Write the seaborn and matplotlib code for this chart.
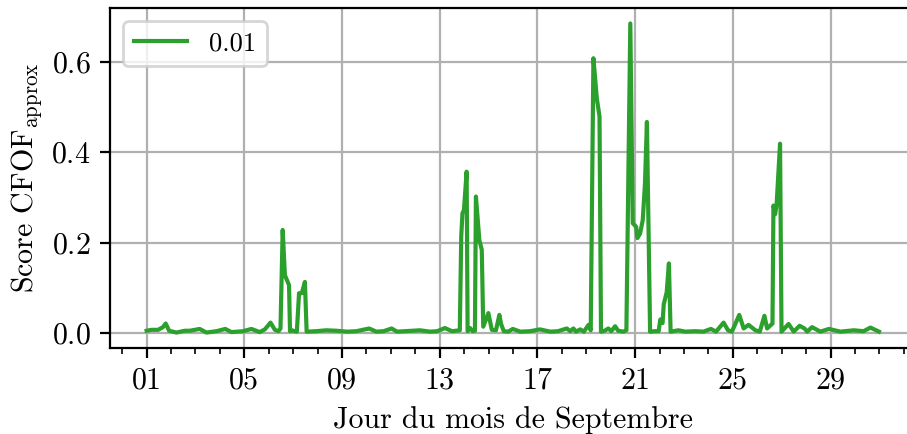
import matplotlib
matplotlib.use("Agg")
import matplotlib.pyplot as plt
import matplotlib.dates as mdates
import numpy as np
import pandas as pd
import seaborn as sns

# Days elapsed since 1 September 00:00 and the CFOF score at that time
jours = [
    0.00, 0.20, 0.47, 0.67, 0.78, 0.92, 1.22, 1.56, 1.77, 2.17, 2.45, 2.86,
    3.22, 3.47, 3.95, 4.29, 4.63, 4.84, 5.07, 5.25, 5.40, 5.48, 5.57, 5.66,
    5.83, 5.87, 5.95, 6.05, 6.15, 6.24, 6.35, 6.48, 6.55, 6.95, 7.35, 7.77,
    8.20, 8.59, 9.11, 9.40, 9.70, 10.03, 10.25, 10.57, 11.19, 11.60, 11.90,
    12.21, 12.50, 12.82, 12.88, 12.93, 12.99, 13.10, 13.14, 13.24, 13.35,
    13.44, 13.48, 13.62, 13.72, 13.78, 13.99, 14.13, 14.30, 14.44, 14.51,
    14.62, 14.80, 14.99, 15.29, 15.70, 16.10, 16.52, 16.84, 17.20, 17.34,
    17.47, 17.58, 17.75, 17.90, 18.09, 18.18, 18.29, 18.43, 18.54, 18.60,
    18.75, 18.90, 19.02, 19.18, 19.30, 19.52, 19.64, 19.80, 19.90, 20.04,
    20.09, 20.20, 20.31, 20.40, 20.48, 20.61, 20.80, 20.96, 21.03, 21.12,
    21.17, 21.29, 21.38, 21.45, 21.77, 22.05, 22.46, 22.79, 23.10, 23.31,
    23.62, 23.80, 23.96, 24.26, 24.44, 24.64, 24.92, 25.10, 25.29, 25.40,
    25.62, 25.66, 25.73, 25.79, 25.93, 25.99, 26.28, 26.49, 26.73, 26.93,
    27.04, 27.24, 27.58, 27.93, 28.40, 28.95, 29.35, 29.63, 29.98,
]
scores = [
    0.005, 0.007, 0.007, 0.013, 0.021, 0.005, 0.001, 0.005, 0.005, 0.009,
    0.001, 0.004, 0.009, 0.002, 0.004, 0.009, 0.002, 0.008, 0.023, 0.007,
    0.004, 0.010, 0.228, 0.128, 0.106, 0.004, 0.006, 0.004, 0.003, 0.088,
    0.088, 0.113, 0.003, 0.004, 0.006, 0.005, 0.003, 0.004, 0.010, 0.003,
    0.004, 0.010, 0.003, 0.004, 0.006, 0.003, 0.004, 0.011, 0.004, 0.006,
    0.215, 0.265, 0.272, 0.357, 0.004, 0.011, 0.004, 0.005, 0.302, 0.206,
    0.184, 0.014, 0.044, 0.007, 0.006, 0.040, 0.020, 0.004, 0.003, 0.009,
    0.003, 0.004, 0.008, 0.003, 0.004, 0.010, 0.004, 0.010, 0.003, 0.008,
    0.003, 0.018, 0.006, 0.608, 0.519, 0.479, 0.003, 0.005, 0.010, 0.004,
    0.015, 0.005, 0.003, 0.006, 0.685, 0.243, 0.235, 0.210, 0.220, 0.250,
    0.330, 0.467, 0.003, 0.004, 0.004, 0.030, 0.022, 0.064, 0.090, 0.154,
    0.003, 0.006, 0.003, 0.004, 0.003, 0.009, 0.003, 0.023, 0.006, 0.003,
    0.040, 0.010, 0.018, 0.006, 0.003, 0.038, 0.010, 0.021, 0.282, 0.263,
    0.285, 0.419, 0.003, 0.020, 0.003, 0.016, 0.010, 0.003, 0.013, 0.003,
    0.009, 0.003, 0.006, 0.004, 0.012, 0.003,
]
serie = "0.01"
jours_ticks = [1, 5, 9, 13, 17, 21, 25, 29]

plt.rcParams.update({
    "font.family": ["cmr10"],
    "mathtext.fontset": "cm",
    "axes.formatter.use_mathtext": True,
    "font.size": 10.8,
    "axes.unicode_minus": False,
})

debut = pd.Timestamp("2019-09-01")
df = pd.DataFrame({
    "temps": debut + pd.to_timedelta(jours, unit="D"),
    "score": scores,
})

fig = plt.figure(figsize=(9.07 / 2, 4.34 / 2), dpi=200)
ax = fig.add_axes([110 / 907, 86 / 434, 805.6 / 907, 340 / 434])

sns.lineplot(data=df, x="temps", y="score", color="#2ca02c", lw=1.5,
             label=serie, ax=ax)

ax.set_xticks([debut + pd.Timedelta(days=d - 1) for d in jours_ticks])
ax.xaxis.set_major_formatter(mdates.DateFormatter("%d"))
ax.xaxis.set_minor_locator(mdates.DayLocator())
ax.grid(True, which="major")
ax.set_axisbelow(True)

ax.set_xlabel("Jour du mois de Septembre")
ax.set_ylabel(r"Score CFOF$_{\mathrm{approx}}$", labelpad=2.5)
ax.legend(loc="upper left", fontsize=9.6)

fig.savefig("out.png", dpi=200)
